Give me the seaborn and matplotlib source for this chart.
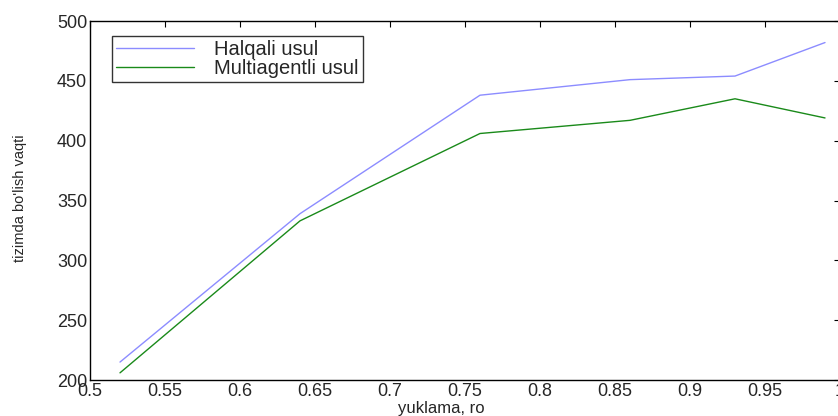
import numpy as np
import pandas as pd
import matplotlib
matplotlib.use("Agg")
import matplotlib.pyplot as plt
import seaborn as sns

# values
ro = [0.52, 0.64, 0.76, 0.86, 0.93, 0.99]
halqali = [215, 339, 438, 451, 454, 482]
multiagent = [206, 333, 406, 417, 435, 419]
series_names = ["Halqali usul", "Multiagentli usul"]
xtick_labels = ["0.5", "0.55", "0.6", "0.65", "0.7", "0.75", "0.8",
                "0.85", "0.9", "0.95", "1"]

df = pd.DataFrame({
    "ro": ro * 2,
    "vaqt": halqali + multiagent,
    "usul": [series_names[0]] * len(ro) + [series_names[1]] * len(ro),
})

sns.set_style("white")
plt.rcParams['font.family'] = ['Liberation Sans', 'DejaVu Sans']

fig = plt.figure(figsize=(8.38, 4.16), dpi=100)
ax = fig.add_axes([0.1074, 0.0865, 0.895, 0.863])

sns.lineplot(data=df, x="ro", y="vaqt", hue="usul",
             palette={series_names[0]: "#8c8cff", series_names[1]: "#1a8a1a"},
             linewidth=1.0, ax=ax, legend=True)

ax.set_xlim(0.5, 1.0)
ax.set_ylim(200, 500)
ax.set_xticks(np.arange(0.5, 1.001, 0.05))
ax.set_xticklabels(xtick_labels)
ax.set_yticks(np.arange(200, 501, 50))
ax.tick_params(direction="in", length=4, width=0.8, labelsize=13,
               top=True, right=True, pad=2, color="black")
for s in ax.spines.values():
    s.set_color("black")
    s.set_linewidth(1.0)

ax.set_xlabel("yuklama, ro", fontsize=12)
ax.xaxis.set_label_coords(0.468, -0.078)
ax.xaxis.label.set_va("center")
ax.set_ylabel("tizimda bo'lish vaqti", fontsize=10.5)
ax.yaxis.set_label_coords(-0.093, 0.507)
ax.yaxis.label.set_va("center")

leg = ax.legend(loc="upper left", bbox_to_anchor=(0.029, 0.958), borderaxespad=0,
                fontsize=14.5, frameon=True, fancybox=False, handlelength=3.9,
                borderpad=0.2, labelspacing=0.0, handletextpad=1.0)
leg.get_frame().set_edgecolor("black")
leg.get_frame().set_linewidth(1.0)

fig.savefig("out.png", dpi=100)
